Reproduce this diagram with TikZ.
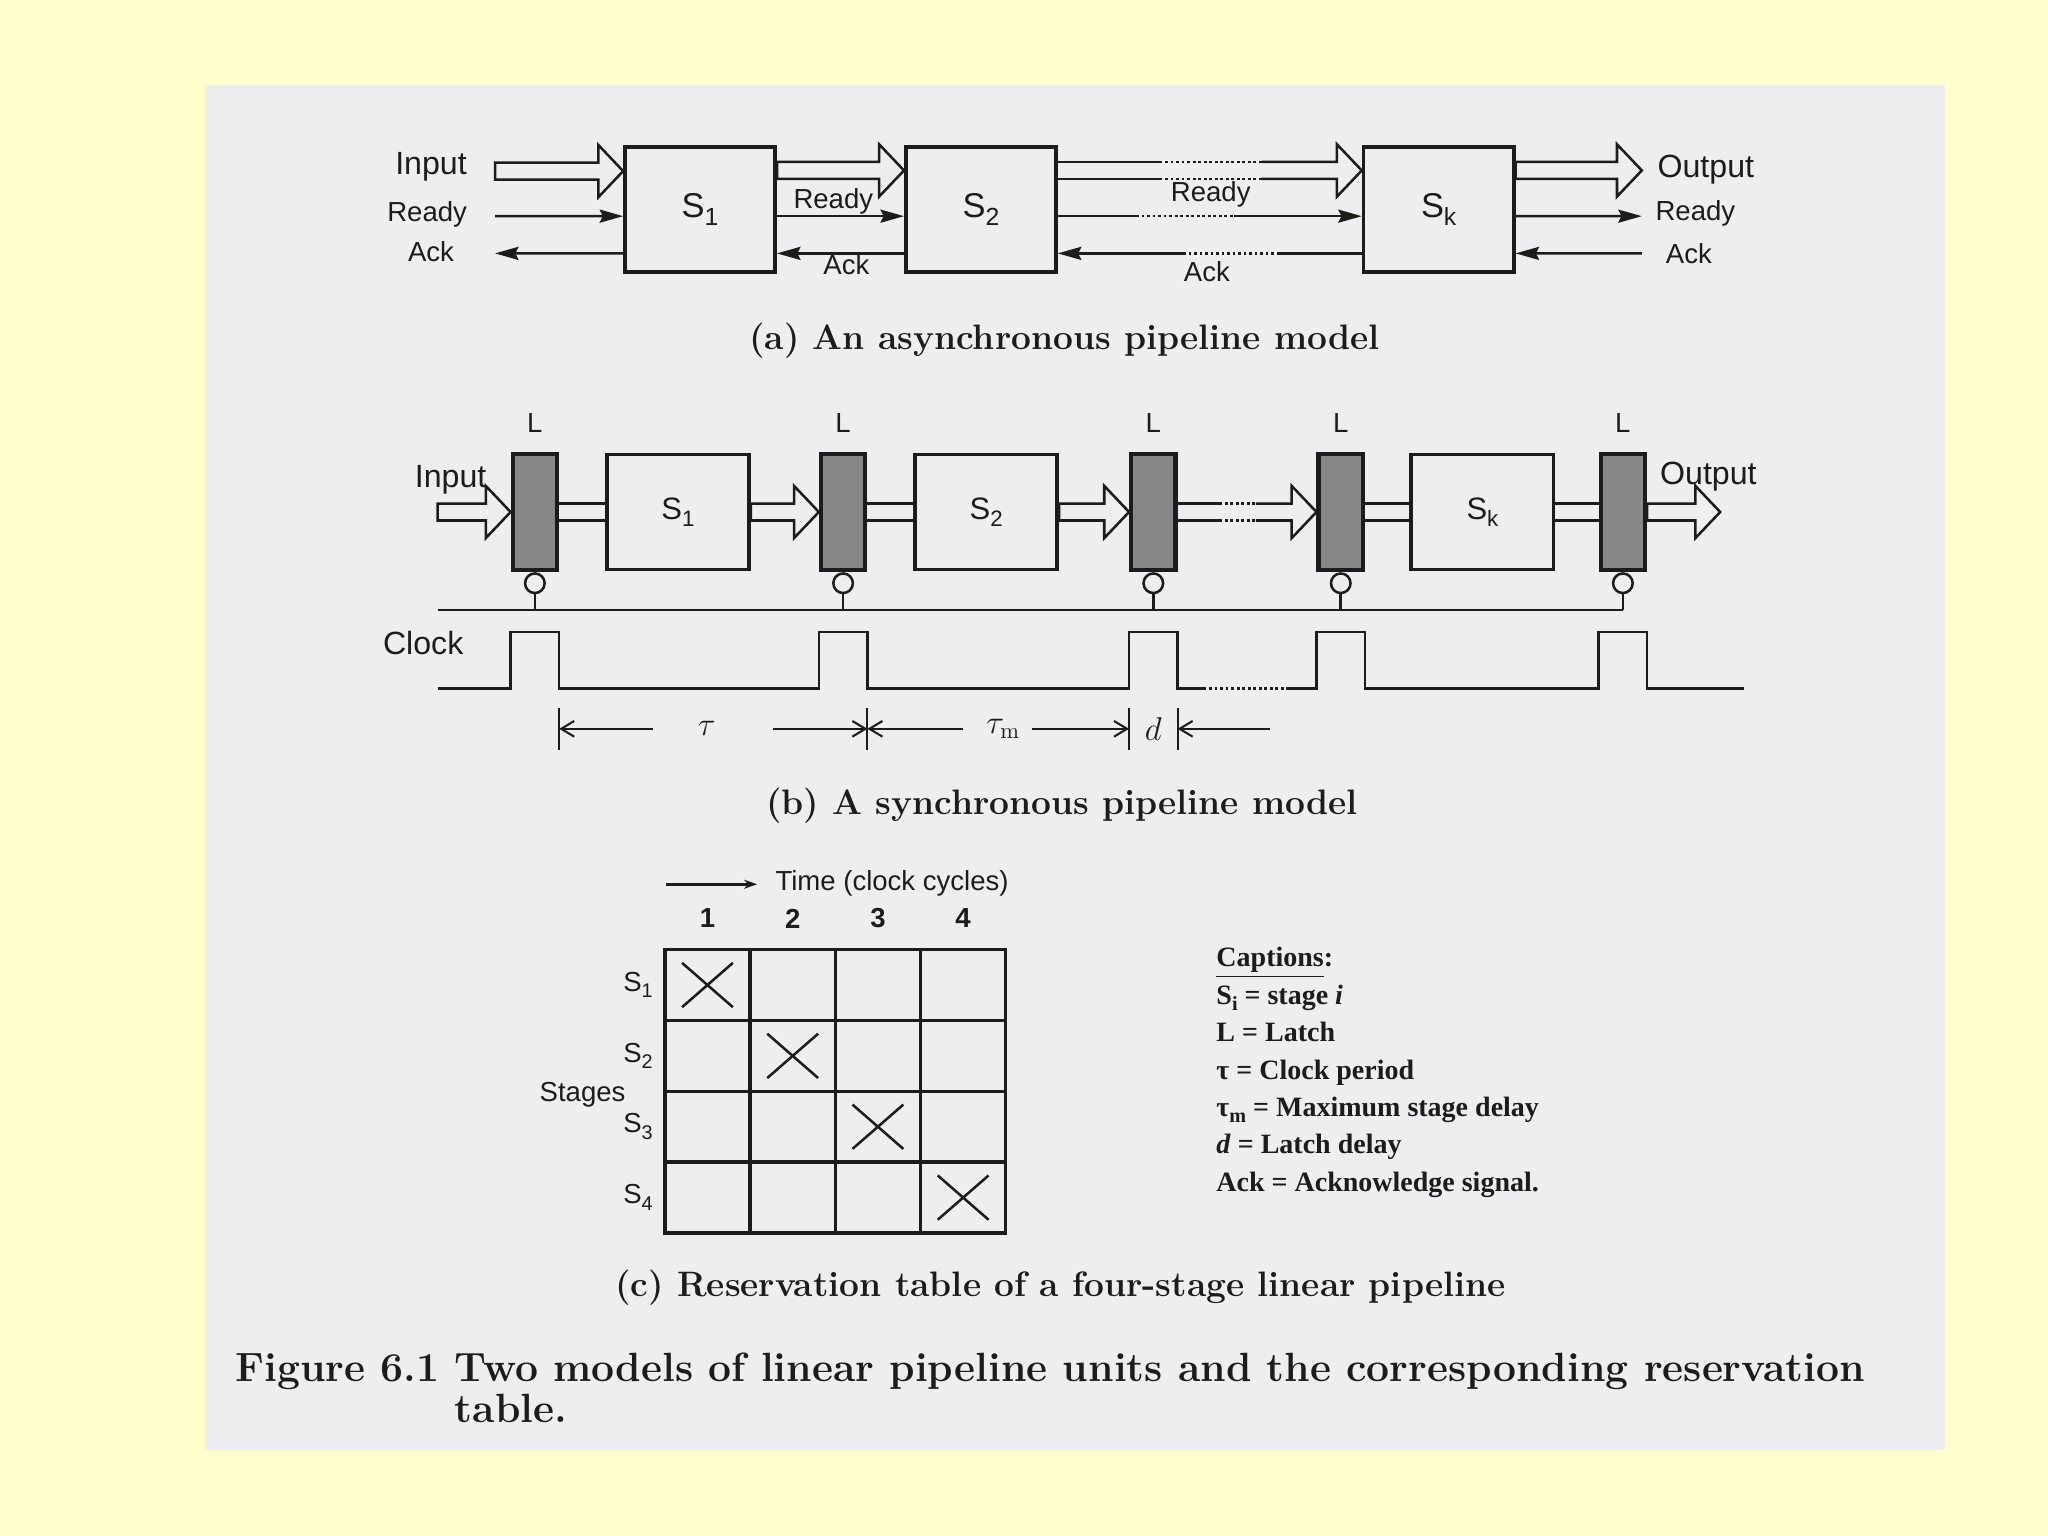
\documentclass[tikz,border=0pt]{standalone}
\usepackage{fontspec}
\newfontfamily\lblfont{Liberation Sans}
\newfontfamily\capfont{Liberation Serif}
\usetikzlibrary{arrows.meta,positioning,calc,shapes.misc}

\definecolor{slide}{RGB}{255,255,204}
\definecolor{paper}{RGB}{238,238,240}
\definecolor{latchfill}{RGB}{135,135,135}
\definecolor{ink}{RGB}{28,28,28}

\newcommand{\lowsub}[1]{\raisebox{-0.45ex}{\scalebox{0.72}{#1}}}
\newcommand{\stg}[1]{S\lowsub{#1}}
% hollow data arrow; optional arg ends the path (default closes the tail)
\newcommand{\fatarrow}[3][-- cycle]{%
  \draw[pipe] let \p1=#2, \p2=#3 in
    (\x1,{\y1+0.13cm}) -- ({\x2-0.38cm},{\y1+0.13cm}) -- ({\x2-0.38cm},{\y1+0.4cm})
    -- (\x2,\y1) -- ({\x2-0.38cm},{\y1-0.4cm}) -- ({\x2-0.38cm},{\y1-0.13cm})
    -- (\x1,{\y1-0.13cm}) #1;}

\begin{document}
\begin{tikzpicture}[x=0.02cm,y=-0.02cm,color=ink,>=Stealth,
  stage/.style={draw,line width=1.6pt,minimum width=2.3cm,minimum height=1.92cm,inner sep=0,font=\lblfont\fontsize{15}{18}\selectfont},
  sstage/.style={stage,minimum width=2.18cm,minimum height=1.76cm,font=\lblfont\fontsize{13.5}{16}\selectfont},
  latch/.style={draw,line width=1.8pt,fill=latchfill,minimum width=0.68cm,minimum height=1.78cm,inner sep=0},
  bubble/.style={circle,draw,line width=1.1pt,minimum size=0.3cm,inner sep=0},
  sig/.style={line width=1.1pt},
  sigarrow/.style={sig,-{Stealth[length=0.36cm,width=0.2cm,inset=0.05cm]}},
  dotseg/.style={dash pattern=on 1.2pt off 1.2pt},
  pipe/.style={line width=1.1pt,line join=miter},
  lbl/.style={font=\lblfont\fontsize{12}{14}\selectfont},
  biglbl/.style={font=\lblfont\fontsize{14}{16}\selectfont},
  subcap/.style={font=\bfseries\fontsize{15.4}{18}\selectfont},
  figcap/.style={font=\bfseries\fontsize{17.8}{20}\selectfont,anchor=base west,inner sep=0},
  dimarrow/.style={line width=0.9pt,-{Straight Barb[length=0.2cm,width=0.24cm]}},
  cell/.style={draw,line width=1.5pt,minimum width=1.305cm,minimum height=1.085cm,inner sep=0},
  xmark/.style={cross out,draw,line width=1.1pt,minimum width=0.74cm,minimum height=0.64cm,inner sep=0}]

% slide and scanned page
\fill[slide] (0,0) rectangle (1568,1176);
\fill[paper] (157,65) rectangle (1489,1110);

% (a) asynchronous model
\node[stage] (s1) at (536,160.5) {\stg{1}};
\node[stage] (s2) at (751,160.5) {\stg{2}};
\node[stage] (sk) at (1101.5,160.5) {\stg{k}};
\coordinate (inA) at (379,131);
\coordinate (rdyA) at (379,165.5);
\coordinate (ackA) at (379,194);
\coordinate (outA) at (1257,131);
\coordinate (rdyB) at (1257,165.5);
\coordinate (ackB) at (1257,194);
\node[biglbl] at (330,128) {Input};
\node[lbl] at (327,164) {Ready};
\node[lbl] at (330,193) {Ack};
\node[biglbl] at (1306,130) {Output};
\node[lbl] at (1298,163) {Ready};
\node[lbl] at (1293,194) {Ack};
\node[lbl] at (638,154) {Ready};
\node[lbl] at (648,203) {Ack};
\node[lbl] at (927,149) {Ready};
\node[lbl] at (924,208) {Ack};

\fatarrow{(inA)}{(s1.west)}
\draw[sigarrow] (rdyA) -- ([yshift=-0.1cm]s1.west);
\draw[sigarrow] ([yshift=-0.67cm]s1.west) -- (ackA);
\fatarrow{([yshift=0.6cm]s1.east)}{(s2.west)}
\draw[sigarrow] ([yshift=-0.1cm]s1.east) -- ([yshift=-0.1cm]s2.west);
\draw[sigarrow] ([yshift=-0.67cm]s2.west) -- ([yshift=-0.67cm]s1.east);
% S2 to Sk, broken lines
\draw[sig] ([yshift=0.73cm]s2.east) -- ++(78,0) coordinate (p1) ([yshift=0.47cm]s2.east) -- ++(78,0) coordinate (p2);
\draw[sig,dotseg] (p1) -- ++(78,0) (p2) -- ++(78,0);
\fatarrow[]{([xshift=3.12cm,yshift=0.6cm]s2.east)}{(sk.west)}
\draw[sig] ([yshift=-0.1cm]s2.east) -- ++(60,0) coordinate (r1);
\draw[sig,dotseg] (r1) -- ++(75,0) coordinate (r2);
\draw[sigarrow] (r2) -- ([yshift=-0.1cm]sk.west);
\draw[sig] ([yshift=-0.67cm]sk.west) -- ++(-63,0) coordinate (a1);
\draw[sig,dotseg] (a1) -- ++(-74,0) coordinate (a2);
\draw[sigarrow] (a2) -- ([yshift=-0.67cm]s2.east);
\fatarrow{([yshift=0.6cm]sk.east)}{(outA)}
\draw[sigarrow] ([yshift=-0.1cm]sk.east) -- (rdyB);
\draw[sigarrow] (ackB) -- ([yshift=-0.67cm]sk.east);

\node[subcap] (capa) at (815,261) {(a) An asynchronous pipeline model};

% (b) synchronous model
\node[latch] (l1) at (409.5,392) {};
\node[latch] (l2) at (645.5,392) {};
\node[latch] (l3) at (883,392) {};
\node[latch] (l4) at (1026.5,392) {};
\node[latch] (l5) at (1242.5,392) {};
\node[sstage] (sb1) at (519,392) {\stg{1}};
\node[sstage] (sb2) at (755,392) {\stg{2}};
\node[sstage] (sbk) at (1135,392) {\stg{k}};
\foreach \i in {1,...,5} \node[lbl,above=0.17cm of l\i] {L};
\coordinate (inB) at (335,392);
\coordinate (outB) at (1317,392);
\node[biglbl] at (345,367) {Input};
\node[biglbl] at (1308,365) {Output};

\fatarrow{(inB)}{(l1.west)}
\draw[sig] ([yshift=0.13cm]l1.east) -- ([yshift=0.13cm]sb1.west) ([yshift=-0.13cm]l1.east) -- ([yshift=-0.13cm]sb1.west);
\fatarrow{(sb1.east)}{(l2.west)}
\draw[sig] ([yshift=0.13cm]l2.east) -- ([yshift=0.13cm]sb2.west) ([yshift=-0.13cm]l2.east) -- ([yshift=-0.13cm]sb2.west);
\fatarrow{(sb2.east)}{(l3.west)}
\draw[sig] ([yshift=0.13cm]l3.east) -- ++(32,0) coordinate (q1) ([yshift=-0.13cm]l3.east) -- ++(32,0) coordinate (q2);
\draw[sig,dotseg] (q1) -- ++(28,0) (q2) -- ++(28,0);
\fatarrow[]{([xshift=1.2cm]l3.east)}{(l4.west)}
\draw[sig] ([yshift=0.13cm]l4.east) -- ([yshift=0.13cm]sbk.west) ([yshift=-0.13cm]l4.east) -- ([yshift=-0.13cm]sbk.west);
\draw[sig] ([yshift=0.13cm]sbk.east) -- ([yshift=0.13cm]l5.west) ([yshift=-0.13cm]sbk.east) -- ([yshift=-0.13cm]l5.west);
\fatarrow{(l5.east)}{(outB)}

% clock bus
\coordinate (busL) at (335,467);
\draw[sig] (busL) -- (busL -| l5);
\foreach \i in {1,...,5} {
  \node[bubble,below=0pt of l\i] (o\i) {};
  \draw[sig] (o\i) -- (o\i |- busL);
}

% clock waveform
\node[biglbl] at (324,492) {Clock};
\coordinate (lo) at (335,527);
\coordinate (hi) at (335,484);
\draw[sig] (lo) -- (lo -| l1.west) -- (hi -| l1.west) -- (hi -| l1.east) -- (lo -| l1.east)
  -- (lo -| l2.west) -- (hi -| l2.west) -- (hi -| l2.east) -- (lo -| l2.east)
  -- (lo -| l3.west) -- (hi -| l3.west) -- (hi -| l3.east) -- (lo -| l3.east) -- ++(20,0) coordinate (ck1);
\draw[sig,dotseg] (ck1) -- ++(63,0) coordinate (ck2);
\draw[sig] (ck2) -- (lo -| l4.west) -- (hi -| l4.west) -- (hi -| l4.east) -- (lo -| l4.east)
  -- (lo -| l5.west) -- (hi -| l5.west) -- (hi -| l5.east) -- (lo -| l5.east) -- ++(74,0);

% timing marks
\coordinate (dm) at (0,558);
\coordinate (d1) at (l1.east |- dm);
\coordinate (d2) at (l2.east |- dm);
\coordinate (d3) at (l3.west |- dm);
\coordinate (d4) at (l3.east |- dm);
\foreach \p in {d1,d2,d3,d4} \draw[line width=0.9pt] ($(\p)+(0,-16)$) -- ($(\p)+(0,16)$);
\draw[dimarrow] ($(d1)+(72,0)$) -- (d1);
\node[font=\fontsize{14}{16}\selectfont] (tau) at ($(d1)+(113,0)$) {$\tau$};
\draw[dimarrow] ($(d2)+(-72,0)$) -- (d2);
\draw[dimarrow] ($(d2)+(73,0)$) -- (d2);
\node[font=\fontsize{14}{16}\selectfont] (taum) at ($(d2)+(104,0)$) {$\tau_{\mathrm m}$};
\draw[dimarrow] ($(d3)+(-74,0)$) -- (d3);
\node[font=\fontsize{14}{16}\selectfont] (dlat) at ($(d3)!0.5!(d4)$) {$d$};
\draw[dimarrow] ($(d4)+(71,0)$) -- (d4);

\node[subcap] (capb) at (813,617) {(b) A synchronous pipeline model};

% (c) reservation table
\node[lbl] (time) at (683,676) {Time (clock cycles)};
\coordinate (tA) at (510,677);
\draw[sig,-{Stealth[length=0.2cm,width=0.14cm]},shorten >=0.16cm] (tA) -- (tA -| time.west);
\foreach \r in {1,...,4}
  \foreach \c in {1,...,4}
    \node[cell] (c\r\c) at ({476.4+65.25*\c},{699.9+54.25*\r}) {};
\foreach \c in {1,...,4} \node[lbl,font=\lblfont\bfseries\fontsize{12}{14}\selectfont] at ($(c1\c)+(0,-51)$) {\c};
\foreach \r in {1,...,4} \node[lbl,left=1pt of c\r1] {\stg{\r}};
\foreach \i in {1,...,4} \node[xmark] at (c\i\i) {};
\node[lbl] (stages) at (446,838) {Stages};

\node[anchor=north west,align=left,inner sep=0,font=\capfont\bfseries\fontsize{12.2}{16.3}\selectfont] (legend) at (931,725)
  {\underline{Captions}:\\
   \stg{i} = stage \textit{i}\\
   L = Latch\\
   τ = Clock period\\
   τ\lowsub{m} = Maximum stage delay\\
   \textit{d} = Latch delay\\
   Ack = Acknowledge signal.};

\node[subcap] (capc) at (812,986) {(c) Reservation table of a four-stage linear pipeline};

% figure caption
\node[figcap] (fignum) at (180,1058) {Figure 6.1};
\node[figcap] (figtxt) at (348,1058) {Two models of linear pipeline units and the corresponding reservation};
\node[figcap] (figtxt2) at (348,1089) {table.};
\end{tikzpicture}
\end{document}
